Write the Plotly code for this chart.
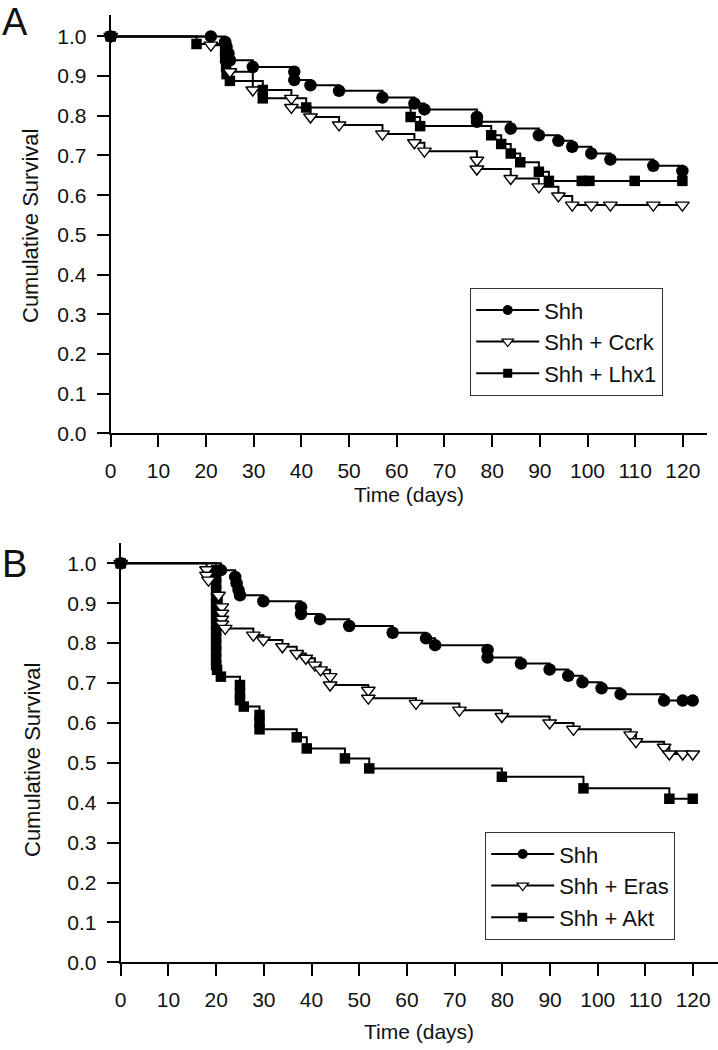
import plotly.graph_objects as go

# ---------------- Panel A data ----------------
a_shh_t = [0, 21, 24, 24.3, 24.7, 25, 29.8, 38.5, 38.5, 41.9, 47.9, 57, 63.7, 65.8,
           76.8, 76.8, 83.9, 89.8, 93.9, 96.8, 100.8, 104.8, 113.8, 119.9]
a_shh_s = [1.0, 1.0, 0.986, 0.974, 0.957, 0.940, 0.923, 0.911, 0.890, 0.877, 0.863, 0.846, 0.831, 0.816,
           0.797, 0.785, 0.768, 0.751, 0.737, 0.722, 0.705, 0.690, 0.674, 0.661]

a_ccrk_t = [0, 21, 25, 29.8, 37.9, 37.9, 41.9, 47.9, 57, 63.7, 65.8, 76.8, 76.8, 83.9,
            89.8, 93.9, 96.8, 100.8, 104.8, 113.8, 119.9]
a_ccrk_s = [1.0, 0.978, 0.911, 0.865, 0.844, 0.821, 0.797, 0.777, 0.754, 0.732, 0.711, 0.688, 0.666, 0.642,
            0.621, 0.598, 0.575, 0.575, 0.575, 0.575, 0.575]

a_lhx1_t = [0, 18, 24, 24, 24.2, 24.3, 25, 31.9, 31.9, 41, 62.9, 64.9, 79.8, 81.9, 83.9,
            85.9, 89.8, 91.9, 98.8, 100.4, 109.9, 119.9]
a_lhx1_s = [1.0, 0.981, 0.965, 0.945, 0.925, 0.905, 0.888, 0.865, 0.844, 0.821, 0.797, 0.774, 0.751, 0.729, 0.705,
            0.683, 0.659, 0.636, 0.636, 0.636, 0.636, 0.636]

# ---------------- Panel B data ----------------
b_shh_t = [0, 21, 24, 24.3, 24.7, 25, 29.9, 37.8, 37.8, 41.8, 47.9, 57, 64, 65.9, 76.9, 76.9,
           83.9, 89.9, 93.8, 96.8, 100.8, 104.8, 113.9, 117.8, 119.9]
b_shh_s = [1.0, 0.983, 0.966, 0.950, 0.933, 0.920, 0.905, 0.890, 0.873, 0.860, 0.843, 0.826, 0.812, 0.795, 0.783, 0.764,
           0.749, 0.734, 0.718, 0.702, 0.687, 0.672, 0.656, 0.656, 0.656]

b_eras_t = [0, 18, 18, 18.4, 20.5, 21.2, 21.2, 21.2, 21.2, 21.9, 27.8, 29.9, 33.9, 36.9, 38.8, 40.7,
            41.9, 43.9, 43.9, 51.9, 51.9, 61.9, 71, 79.9, 89.9, 94.9, 106.9, 108, 113.9, 115, 117.8, 119.9]
b_eras_s = [1.0, 0.984, 0.970, 0.958, 0.920, 0.891, 0.875, 0.860, 0.848, 0.837, 0.820, 0.808, 0.791, 0.774, 0.762, 0.745,
            0.733, 0.716, 0.695, 0.682, 0.662, 0.649, 0.632, 0.616, 0.600, 0.584, 0.570, 0.553, 0.539, 0.522, 0.522, 0.522]

b_akt_t = [0, 20, 20, 20, 20, 20, 20, 20, 20, 20, 20, 20, 20, 20, 20, 20, 20.2, 21, 25, 25, 25, 25.8,
           29.1, 29.1, 29.1, 36.9, 39, 47, 52.1, 79.9, 97, 115, 119.9]
b_akt_s = [1.0, 0.983, 0.966, 0.949, 0.932, 0.915, 0.898, 0.881, 0.864, 0.847, 0.830, 0.813, 0.796, 0.779, 0.762, 0.745,
           0.733, 0.716, 0.695, 0.676, 0.657, 0.641, 0.620, 0.602, 0.584, 0.564, 0.536, 0.511, 0.486, 0.465, 0.436, 0.410, 0.410]

x_ticks = list(range(0, 121, 10))
y_ticks = [0.0, 0.1, 0.2, 0.3, 0.4, 0.5, 0.6, 0.7, 0.8, 0.9, 1.0]

legend_a = ["Shh", "Shh + Ccrk", "Shh + Lhx1"]
legend_b = ["Shh", "Shh + Eras", "Shh + Akt"]

FONT = "Liberation Sans, Arial, sans-serif"
W, H = 718, 1050

circle = dict(symbol="circle", size=12.5, color="black", line=dict(width=0))
tri = dict(symbol="triangle-down", size=12, color="white", line=dict(width=1.4, color="black"))
square = dict(symbol="square", size=10.5, color="black", line=dict(width=0))

circle_l = dict(symbol="circle", size=10, color="black", line=dict(width=0))
tri_l = dict(symbol="triangle-down", size=10, color="white", line=dict(width=1.2, color="black"))
square_l = dict(symbol="square", size=9, color="black", line=dict(width=0))

fig = go.Figure()


def add_curve(t, s, marker, xa, ya):
    fig.add_trace(go.Scatter(
        x=t, y=s, mode="lines+markers", line=dict(color="black", width=2, shape="hv"),
        marker=marker, xaxis=xa, yaxis=ya, showlegend=False, cliponaxis=False,
        hoverinfo="skip"))


def add_legend(name, marker, xa, ya, leg):
    fig.add_trace(go.Scatter(
        x=[None], y=[None], mode="lines+markers", name=name,
        line=dict(color="black", width=2), marker=marker,
        xaxis=xa, yaxis=ya, showlegend=True, legend=leg))


# Panel A curves
add_curve(a_lhx1_t, a_lhx1_s, square, "x", "y")
add_curve(a_ccrk_t, a_ccrk_s, tri, "x", "y")
add_curve(a_shh_t, a_shh_s, circle, "x", "y")
add_legend(legend_a[0], circle_l, "x", "y", "legend")
add_legend(legend_a[1], tri_l, "x", "y", "legend")
add_legend(legend_a[2], square_l, "x", "y", "legend")

# Panel B curves
add_curve(b_akt_t, b_akt_s, square, "x2", "y2")
add_curve(b_eras_t, b_eras_s, tri, "x2", "y2")
add_curve(b_shh_t, b_shh_s, circle, "x2", "y2")
add_legend(legend_b[0], circle_l, "x2", "y2", "legend2")
add_legend(legend_b[1], tri_l, "x2", "y2", "legend2")
add_legend(legend_b[2], square_l, "x2", "y2", "legend2")


def px_x(p):
    return p / W


def px_y(p):
    return 1 - p / H


axis_common = dict(showline=True, linecolor="black", linewidth=2, ticks="outside",
                   ticklen=12, tickwidth=2, tickcolor="black", showgrid=False, zeroline=False,
                   tickfont=dict(family=FONT, size=21, color="#111"), fixedrange=True,
                   automargin=False)

fig.update_layout(
    xaxis=dict(domain=[px_x(110.7), px_x(706.7)], range=[0, 125], tickvals=x_ticks,
               anchor="y", ticklabelstandoff=5, **axis_common),
    yaxis=dict(domain=[px_y(433.3), px_y(15)], range=[0, 1.054], tickvals=y_ticks,
               tickformat=".1f", anchor="x", ticklabelstandoff=6, **axis_common),
    xaxis2=dict(domain=[px_x(120.7), 1.0], range=[0, 125.2], tickvals=x_ticks,
                anchor="y2", ticklabelstandoff=5, **axis_common),
    yaxis2=dict(domain=[px_y(962.3), px_y(543)], range=[0, 1.051], tickvals=y_ticks,
                tickformat=".1f", anchor="x2", ticklabelstandoff=6, **axis_common),
)

legend_common = dict(xanchor="left", yanchor="top", bgcolor="white", bordercolor="#333",
                     borderwidth=1.2, font=dict(family=FONT, size=22, color="#111"),
                     itemwidth=63, tracegroupgap=0)
fig.update_layout(
    legend=dict(x=px_x(470), y=px_y(288), **legend_common),
    legend2=dict(x=px_x(485), y=px_y(832), **legend_common),
)

ann_font = dict(family=FONT, size=21, color="#111")
ytitle_font = dict(family=FONT, size=22, color="#111")
annotations = [
    dict(text="Cumulative Survival", x=px_x(30), y=px_y(226), xref="paper", yref="paper",
         textangle=-90, showarrow=False, font=ytitle_font, xanchor="center", yanchor="middle"),
    dict(text="Cumulative Survival", x=px_x(32), y=px_y(760), xref="paper", yref="paper",
         textangle=-90, showarrow=False, font=ytitle_font, xanchor="center", yanchor="middle"),
    dict(text="Time (days)", x=px_x(409), y=px_y(494), xref="paper", yref="paper",
         showarrow=False, font=ann_font, xanchor="center", yanchor="middle"),
    dict(text="Time (days)", x=px_x(419), y=px_y(1031), xref="paper", yref="paper",
         showarrow=False, font=ann_font, xanchor="center", yanchor="middle"),
    dict(text="A", x=px_x(0), y=px_y(-1), xref="paper", yref="paper", showarrow=False,
         font=dict(family=FONT, size=38, color="#111"), xanchor="left", yanchor="top"),
    dict(text="B", x=px_x(0), y=px_y(541), xref="paper", yref="paper", showarrow=False,
         font=dict(family=FONT, size=38, color="#111"), xanchor="left", yanchor="top"),
]

fig.update_layout(
    width=W, height=H, autosize=False,
    margin=dict(l=0, r=0, t=0, b=0, pad=0),
    paper_bgcolor="white", plot_bgcolor="white",
    font=dict(family=FONT, size=20, color="#111"),
    annotations=annotations,
)

fig.write_html(
    "out.html", include_plotlyjs=True, config={"displayModeBar": False},
    post_script="document.body.style.margin='0';document.body.style.padding='0';"
                "document.body.style.overflow='hidden';"
                "document.documentElement.style.overflow='hidden';")
